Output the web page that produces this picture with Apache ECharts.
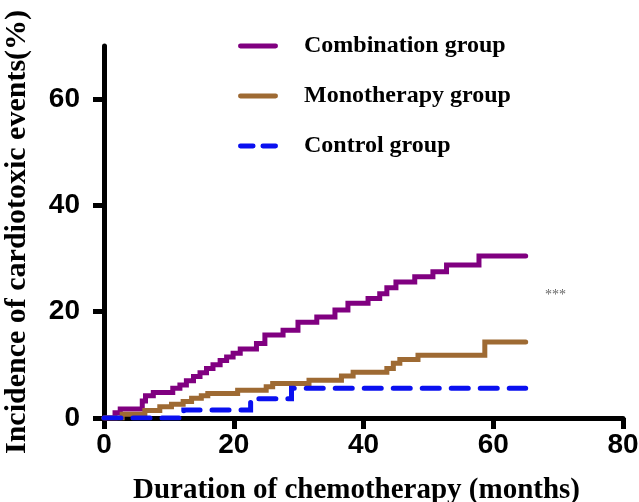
<!DOCTYPE html>
<html><head><meta charset="utf-8">
<script src="https://cdn.jsdelivr.net/npm/echarts@6/dist/echarts.min.js"></script>
<style>html,body{margin:0;padding:0;background:#fff}#c{width:639px;height:502px}</style>
</head><body><div id="c"></div>
<script>
const seriesNames = ['Combination group','Monotherapy group','Control group'];
const combT = [0,1.7,2.5,5.9,6.4,7.6,10.6,11.7,12.7,13.8,14.8,15.8,16.8,17.9,18.9,19.9,21.0,23.5,24.8,27.6,29.9,32.8,35.6,37.6,40.7,42.5,43.6,45.0,47.9,50.7,52.8,57.8,65];
const combV = [0,1.0,1.7,3.2,4.2,4.8,5.6,6.2,7.0,7.8,8.5,9.3,10.0,10.8,11.5,12.2,13.0,14.0,15.6,16.5,18.0,19.0,20.3,21.6,22.5,23.4,24.5,25.6,26.6,27.5,28.8,30.5,30.5];
const monoT = [0,2.8,6.3,8.6,10.4,12.2,13.5,15.0,16.0,20.6,25.0,26.0,31.6,36.6,38.4,43.6,44.6,45.6,48.4,58.7,65];
const monoV = [0,0.7,1.4,2.1,2.6,3.1,3.7,4.2,4.6,5.2,5.9,6.5,7.1,7.9,8.6,9.3,10.3,11.0,11.8,14.3,14.3];
const ctrlT = [0,12.3,22.6,28.9,65];
const ctrlV = [0,1.5,3.6,5.6,5.6];
const xTicks = [0,20,40,60,80];
const yTicks = [0,20,40,60];
const xTitle = 'Duration of chemotherapy (months)';
const yTitle = 'Incidence of cardiotoxic events(%)';
const sigText = '***';

const zip = (t, v) => t.map((x, i) => [x, v[i]]);
const colors = ['#800080', '#9E6A33', '#0A10F0'];
const chart = echarts.init(document.getElementById('c'), null, {renderer: 'canvas'});
const tickFont = {fontFamily: 'Liberation Sans', fontWeight: 'bold', fontSize: 28, color: '#000'};
const mk = (name, data, color, dashed) => ({
  name, type: 'line', data, step: 'end', symbol: 'none', showSymbol: false,
  lineStyle: {color, width: 5, cap: 'round', join: 'miter', type: dashed ? [17, 12] : 'solid'},
  itemStyle: {color}, animation: false
});
const solidIcon = 'path://M2,0H38A2,2,0,0,1,38,5H2A2,2,0,0,1,2,0Z';
const dashIcon = 'path://M2,0H15A2,2,0,0,1,15,5H2A2,2,0,0,1,2,0Z M25,0H38A2,2,0,0,1,38,5H25A2,2,0,0,1,25,0Z';
chart.setOption({
  animation: false,
  grid: {left: 104, right: 16, top: 46, bottom: 84, containLabel: false, outerBoundsMode: 'none'},
  legend: {
    orient: 'vertical', left: 238, top: 33, padding: 0, itemWidth: 40, itemHeight: 6, itemGap: 24,
    textStyle: {fontFamily: 'Liberation Serif', fontWeight: 'bold', fontSize: 24, color: '#000', lineHeight: 26, padding: [0, 0, 0, 21]},
    data: [
      {name: seriesNames[0], icon: solidIcon, itemStyle: {color: colors[0]}},
      {name: seriesNames[1], icon: solidIcon, itemStyle: {color: colors[1]}},
      {name: seriesNames[2], icon: dashIcon, itemStyle: {color: colors[2]}}
    ]
  },
  xAxis: {
    type: 'value', min: xTicks[0], max: xTicks[xTicks.length - 1], interval: 20,
    axisLine: {lineStyle: {color: '#000', width: 5}},
    axisTick: {show: true, length: 11, lineStyle: {color: '#000', width: 5}},
    axisLabel: Object.assign({margin: 13}, tickFont),
    splitLine: {show: false},
    name: xTitle, nameLocation: 'middle', nameGap: 58,
    nameTextStyle: {fontFamily: 'Liberation Serif', fontWeight: 'bold', fontSize: 29, color: '#000', padding: [0, 14, 0, 0]}
  },
  yAxis: {
    type: 'value', min: 0, max: 70,
    axisLine: {show: true, lineStyle: {color: '#000', width: 5}},
    axisTick: {show: true, length: 11, customValues: yTicks, lineStyle: {color: '#000', width: 5}},
    axisLabel: Object.assign({margin: 24, customValues: yTicks}, tickFont),
    splitLine: {show: false},
    name: yTitle, nameLocation: 'middle', nameGap: 72, nameRotate: 90,
    nameTextStyle: {fontFamily: 'Liberation Serif', fontWeight: 'bold', fontSize: 30, color: '#000'}
  },
  graphic: [{type: 'text', left: 545, top: 288, style: {text: sigText, fontSize: 14, fill: '#666', fontFamily: 'Liberation Serif'}}],
  series: [
    mk(seriesNames[0], zip(combT, combV), colors[0], false),
    mk(seriesNames[1], zip(monoT, monoV), colors[1], false),
    mk(seriesNames[2], zip(ctrlT, ctrlV), colors[2], true)
  ]
});
</script></body></html>
